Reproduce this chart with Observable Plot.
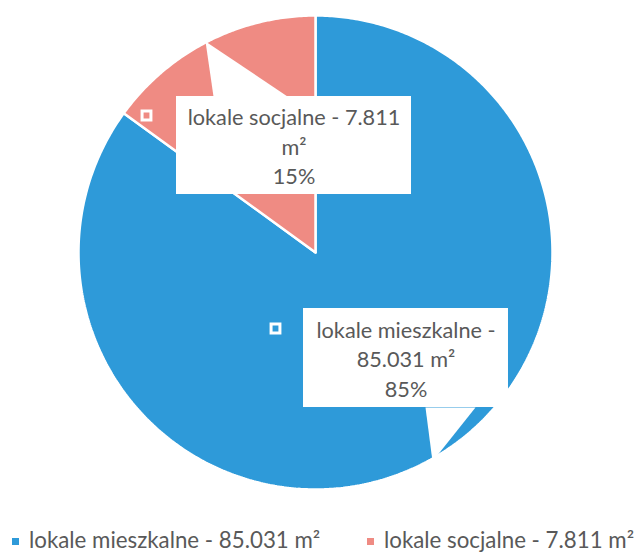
<!DOCTYPE html>
<html>
<head>
<meta charset="utf-8">
<script src="https://cdn.jsdelivr.net/npm/d3@7"></script>
<script src="https://cdn.jsdelivr.net/npm/@observablehq/plot@0.6"></script>
<style>
  html, body { margin: 0; padding: 0; background: #fff; }
  #wrap { width: 634px; height: 555px; position: relative; overflow: hidden; }
  .legend { position: absolute; left: 0; top: 515px; width: 634px; height: 40px; font-family: Lato, sans-serif; font-size: 22.3px; color: #595959; }
  .legend .item { position: absolute; top: 12px; white-space: nowrap; line-height: 26px; }
  .legend .sw { display: inline-block; width: 7px; height: 7px; margin-right: 10px; vertical-align: 3px; }
</style>
</head>
<body>
<div id="wrap"></div>
<script>
// ---- data ----
const categories = ["lokale mieszkalne", "lokale socjalne"];
const areas = ["85.031", "7.811"];           // m²
const percents = [85, 15];                    // share shown on the chart
const labels = ["lokale mieszkalne - 85.031 m²", "lokale socjalne - 7.811 m²"];
const calloutText = ["lokale mieszkalne -\n85.031 m²\n85%", "lokale socjalne - 7.811\nm²\n15%"];
const colors = ["#2e9ad9", "#ef8b83"];

// ---- pie geometry (clockwise from 12 o'clock) ----
const total = d3.sum(percents);
let acc = 0;
const slices = categories.map((c, i) => {
  const a0 = acc / total * 2 * Math.PI;
  acc += percents[i];
  const a1 = acc / total * 2 * Math.PI;
  return {c, a0, a1};
});
const pts = [];
for (const s of slices) {
  pts.push({c: s.c, x: 0, y: 0});
  const n = Math.max(2, Math.ceil((s.a1 - s.a0) / 0.01));
  for (let k = 0; k <= n; k++) {
    const a = s.a0 + (s.a1 - s.a0) * k / n;
    pts.push({c: s.c, x: Math.sin(a), y: Math.cos(a)});
  }
  pts.push({c: s.c, x: 0, y: 0});
}

// ---- callout layout (in pie-radius units) ----
const callouts = [
  {c: categories[0], text: calloutText[0], x1: -0.0506, x2: 0.8143, y1: -0.2363, y2: -0.654,
   ptr: [[0.4641, -0.654], [0.6751, -0.654], [0.4937, -0.8819]], mx: -0.1688, my: -0.3207},
  {c: categories[1], text: calloutText[1], x1: -0.5865, x2: 0.4051, y1: 0.6582, y2: 0.2447,
   ptr: [[-0.4304, 0.6582], [-0.1181, 0.6582], [-0.4641, 0.8903]], mx: -0.7131, my: 0.5781}
];
const ptrPts = callouts.flatMap(d => d.ptr.map(([x, y]) => ({c: d.c, x, y})));

const chart = Plot.plot({
  width: 634,
  height: 515,
  x: {domain: [-1, 1], range: [78, 552], axis: null},
  y: {domain: [-1, 1], range: [489, 15], axis: null},
  color: {domain: categories, range: colors},
  style: {fontFamily: "Lato, sans-serif", background: "white"},
  marks: [
    Plot.line(pts, {x: "x", y: "y", z: "c", fill: "c", stroke: "white", strokeWidth: 2.5, curve: "linear", strokeLinejoin: "miter"}),
    Plot.dot(callouts, {x: "mx", y: "my", symbol: "square", r: 5, fill: "c", stroke: "white", strokeWidth: 3}),
    Plot.line(ptrPts, {x: "x", y: "y", z: "c", fill: "white", stroke: "none", curve: "linear"}),
    Plot.rect(callouts, {x1: "x1", x2: "x2", y1: "y1", y2: "y2", fill: "white"}),
    Plot.text(callouts, {x: d => (d.x1 + d.x2) / 2, y: d => (d.y1 + d.y2) / 2, text: "text",
      fill: "#595959", fontSize: 21.7, lineHeight: 1.36, lineAnchor: "middle", textAnchor: "middle"})
  ]
});

const wrap = document.getElementById("wrap");
wrap.appendChild(chart);

const legend = document.createElement("div");
legend.className = "legend";
const lefts = [12, 367];
labels.forEach((t, i) => {
  const it = document.createElement("div");
  it.className = "item";
  it.style.left = lefts[i] + "px";
  const sw = document.createElement("span");
  sw.className = "sw";
  sw.style.background = colors[i];
  it.appendChild(sw);
  it.appendChild(document.createTextNode(t));
  legend.appendChild(it);
});
wrap.appendChild(legend);
</script>
</body>
</html>
